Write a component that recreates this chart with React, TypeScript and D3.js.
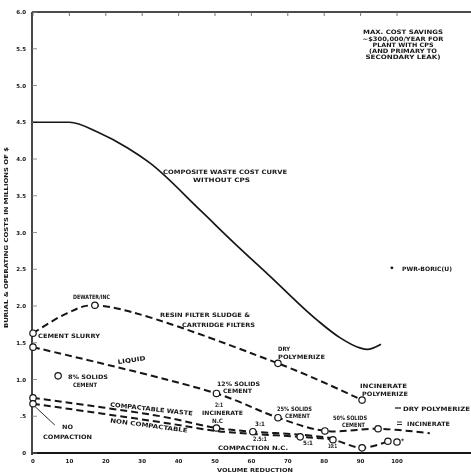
import React from 'react';
import * as d3 from 'd3';

// axis ticks
const volumeTicks = [0, 10, 20, 30, 40, 50, 60, 70, 80, 90, 100];
const costTicks = [0, 0.5, 1, 1.5, 2, 2.5, 3, 3.5, 4, 4.5, 5, 5.5, 6];
const costTickLabels = ['0', '.5', '1.0', '1.5', '2.0', '2.5', '3.0', '3.5', '4.0', '4.5', '5.0', '5.5', '6.0'];

// composite waste cost curve without CPS (solid)
const compositeVR = [0, 10, 18, 26, 32, 46, 55, 65, 78, 84.3, 89.8, 91.8, 95.6];
const compositeCost = [4.5, 4.5, 4.36, 4.15, 3.95, 3.3, 2.87, 2.41, 1.81, 1.57, 1.43, 1.41, 1.48];

// resin, filter sludge & cartridge filters
const resinVR = [0, 9.3, 17, 67.3, 90.4];
const resinCost = [1.63, 1.9, 2.01, 1.22, 0.72];
const resinMarked = [true, false, true, true, true];

// liquid
const liquidVR = [0, 50.4, 67.3, 80.2, 94.8, 109];
const liquidCost = [1.44, 0.81, 0.48, 0.3, 0.33, 0.27];
const liquidMarked = [true, true, true, true, true, false];

// compactable waste
const compactVR = [0, 35, 50.4, 60.4, 73.4, 82.4];
const compactCost = [0.75, 0.5, 0.34, 0.29, 0.25, 0.2];
const compactMarked = [true, false, true, true, false, false];

// non compactable
const nonCompactVR = [0, 35, 50.4, 60.4, 73.4, 82.4, 90.4, 97.5];
const nonCompactCost = [0.67, 0.42, 0.3, 0.26, 0.22, 0.18, 0.07, 0.16];
const nonCompactMarked = [true, false, false, false, true, true, true, true];

// single points
const solids8VR = 6.9;
const solids8Cost = 1.05;
const starVR = 100;
const starCost = 0.15;
const pwrVR = 98.6;
const pwrCost = 2.52;

const W = 471;
const H = 476;
const INK = '#161616';
const FONT = '"DejaVu Sans", sans-serif';

const x = d3.scaleLinear().domain([0, 120]).range([33, 469.8]);
const y = d3.scaleLinear().domain([0, 6]).range([453, 12]);

const zip = (xs: number[], ys: number[]) => xs.map((v, i) => [v, ys[i]] as [number, number]);

const smooth = d3
  .line<[number, number]>()
  .x(d => x(d[0]))
  .y(d => y(d[1]))
  .curve(d3.curveCatmullRom.alpha(0.5));

const smoothSolid = d3
  .line<[number, number]>()
  .x(d => x(d[0]))
  .y(d => y(d[1]))
  .curve(d3.curveMonotoneX);

const Label = ({ px, py, w, anchor = 'start', rotate = 0, size = 6, children }: any) => (
  <text
    x={px}
    y={py}
    textAnchor={anchor}
    fontSize={size}
    fontWeight="bold"
    fontFamily={FONT}
    fill={INK}
    textLength={w}
    lengthAdjust={w ? 'spacingAndGlyphs' : undefined}
    transform={rotate ? `rotate(${rotate},${px},${py})` : undefined}
  >
    {children}
  </text>
);

const Circles = ({ xs, ys, marked }: { xs: number[]; ys: number[]; marked?: boolean[] }) => (
  <g>
    {xs.map((v, i) =>
      marked && !marked[i] ? null : (
        <circle key={i} cx={x(v)} cy={y(ys[i])} r={3.2} fill="#fff" stroke={INK} strokeWidth={1.2} />
      )
    )}
  </g>
);

export default function App() {
  const dashed = { fill: 'none', stroke: INK, strokeWidth: 2, strokeDasharray: '7,4' };

  return (
    <div style={{ position: 'fixed', left: 0, top: 0 }}>
      <svg width={W} height={H} style={{ display: 'block', background: '#fff' }}>
        <defs>
          <filter id="scan">
            <feGaussianBlur stdDeviation="0.3" />
          </filter>
        </defs>
        <g filter="url(#scan)">
          {/* frame */}
          <line x1={32} x2={471} y1={y(6)} y2={y(6)} stroke={INK} strokeWidth={1.5} />
          <line x1={32} x2={32} y1={y(6)} y2={y(0) + 2} stroke={INK} strokeWidth={1.6} />
          <line x1={32} x2={471} y1={y(0)} y2={y(0)} stroke={INK} strokeWidth={2.2} />

          {/* y axis ticks */}
          {costTicks.map((t, i) => (
            <g key={t}>
              <line x1={32} x2={37} y1={y(t)} y2={y(t)} stroke="#777" strokeWidth={0.8} />
              <Label px={26} py={y(t) + 2} anchor="end" size={5.5}>
                {costTickLabels[i]}
              </Label>
            </g>
          ))}

          {/* x axis ticks */}
          {volumeTicks.map(t => (
            <g key={t}>
              <line x1={x(t)} x2={x(t)} y1={y(6)} y2={y(6) + 4} stroke="#666" strokeWidth={0.9} />
              <Label px={x(t)} py={462.5} anchor="middle" size={5.5}>
                {String(t)}
              </Label>
            </g>
          ))}

          {/* axis titles */}
          <Label px={8} py={237.5} anchor="middle" rotate={-90} w={181} size={5.5}>
            BURIAL &amp; OPERATING COSTS IN MILLIONS OF $
          </Label>
          <Label px={255} py={472} anchor="middle" w={76} size={5.5}>
            VOLUME REDUCTION
          </Label>

          {/* composite curve */}
          <path d={smoothSolid(zip(compositeVR, compositeCost)) || ''} fill="none" stroke={INK} strokeWidth={1.7} />

          {/* dashed process curves */}
          <path d={smooth(zip(resinVR, resinCost)) || ''} {...dashed} />
          <path d={smooth(zip(liquidVR, liquidCost)) || ''} {...dashed} />
          <path d={smooth(zip(compactVR, compactCost)) || ''} {...dashed} />
          <path d={smooth(zip(nonCompactVR, nonCompactCost)) || ''} {...dashed} />

          {/* leader line to "no compaction" */}
          <line x1={x(0.6)} y1={y(0.63)} x2={x(6)} y2={y(0.38)} stroke={INK} strokeWidth={0.9} />

          <Circles xs={resinVR} ys={resinCost} marked={resinMarked} />
          <Circles xs={liquidVR} ys={liquidCost} marked={liquidMarked} />
          <Circles xs={compactVR} ys={compactCost} marked={compactMarked} />
          <Circles xs={nonCompactVR} ys={nonCompactCost} marked={nonCompactMarked} />
          <Circles xs={[solids8VR, starVR]} ys={[solids8Cost, starCost]} />
          <circle cx={x(pwrVR)} cy={y(pwrCost)} r={1.4} fill={INK} />

          {/* annotation box */}
          <Label px={403} py={34} anchor="middle" w={80}>MAX. COST SAVINGS</Label>
          <Label px={403} py={40.5} anchor="middle" w={81}>~$300,000/YEAR FOR</Label>
          <Label px={403} py={46.5} anchor="middle" w={61}>PLANT WITH CPS</Label>
          <Label px={403} py={52.5} anchor="middle" w={68}>(AND PRIMARY TO</Label>
          <Label px={403} py={58.5} anchor="middle" w={75}>SECONDARY LEAK)</Label>

          <Label px={163} py={174} w={124}>COMPOSITE WASTE COST CURVE</Label>
          <Label px={193} py={181.5} w={57}>WITHOUT CPS</Label>

          <Label px={73} py={299} w={37}>DEWATER/INC</Label>
          <Label px={160} py={316.5} w={90}>RESIN FILTER SLUDGE &amp;</Label>
          <Label px={182} py={326.5} w={73}>CARTRIDGE FILTERS</Label>
          <Label px={38} py={337.5} w={62}>CEMENT SLURRY</Label>
          <Label px={278} py={350.5} w={12}>DRY</Label>
          <Label px={278} py={358.5} w={47}>POLYMERIZE</Label>
          <Label px={118} py={364} w={28} rotate={-8}>LIQUID</Label>
          <Label px={68} py={378.5} w={40}>8% SOLIDS</Label>
          <Label px={73} py={386.5} w={24}>CEMENT</Label>
          <Label px={217} py={385.5} w={43}>12% SOLIDS</Label>
          <Label px={223} py={392.5} w={29}>CEMENT</Label>
          <Label px={360} py={387.5} w={47}>INCINERATE</Label>
          <Label px={362} py={395.5} w={46}>POLYMERIZE</Label>
          <Label px={110} py={406.5} w={83} rotate={6.2}>COMPACTABLE WASTE</Label>
          <Label px={110} py={422.5} w={78} rotate={7.4}>NON COMPACTABLE</Label>
          <Label px={215} py={406.5} w={8}>2:1</Label>
          <Label px={202} py={414.5} w={41}>INCINERATE</Label>
          <Label px={212} py={422.5} w={11}>N.C</Label>
          <Label px={277} py={410.5} w={35}>25% SOLIDS</Label>
          <Label px={285} py={417.5} w={25}>CEMENT</Label>
          <Label px={333} py={419.5} w={34}>50% SOLIDS</Label>
          <Label px={342} py={426.5} w={23}>CEMENT</Label>
          <Label px={255} py={425.5} w={10}>3:1</Label>
          <Label px={253} py={440.5} w={14}>2.5:1</Label>
          <Label px={303} py={444.5} w={10}>5:1</Label>
          <Label px={328} py={447.5} w={9}>10:1</Label>
          <Label px={218} py={449.5} w={70}>COMPACTION N.C.</Label>
          <Label px={401} py={443}>*</Label>
          <Label px={62} py={428.5} w={11}>NO</Label>
          <Label px={43} py={438.5} w={49}>COMPACTION</Label>

          {/* key */}
          <line x1={395} x2={401} y1={408} y2={408} stroke={INK} strokeWidth={1.2} />
          <Label px={403} py={410.5} w={67}>DRY POLYMERIZE</Label>
          <line x1={397} x2={402} y1={422} y2={422} stroke={INK} strokeWidth={0.9} />
          <line x1={397} x2={402} y1={424.5} y2={424.5} stroke={INK} strokeWidth={0.9} />
          <Label px={407} py={425.5} w={43}>INCINERATE</Label>
          <Label px={402} py={270.5} w={50}>PWR-BORIC(U)</Label>
        </g>
      </svg>
    </div>
  );
}
